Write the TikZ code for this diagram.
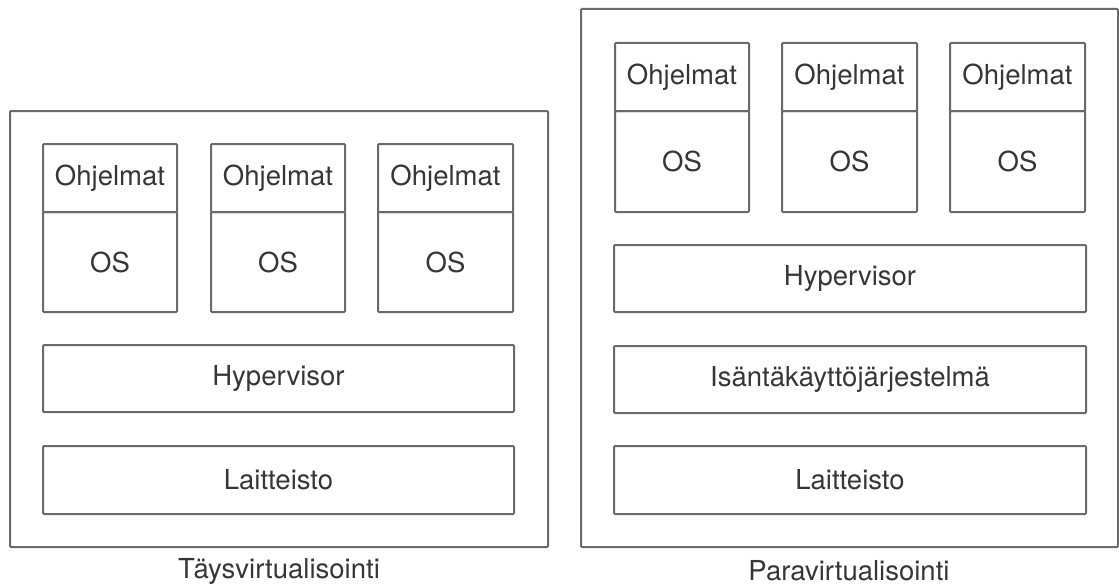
\documentclass[tikz,border=0pt]{standalone}
\usepackage{fontspec}
\setmainfont{TeX Gyre Heros}
\definecolor{edge}{HTML}{6A6A6A}
\definecolor{ink}{HTML}{363636}
\tikzset{
  box/.style={draw=edge, line width=2pt, rounded corners=1pt, inner sep=0pt,
              outer sep=0pt, font=\fontsize{27.5}{32}\selectfont, text=ink},
  frame/.style={draw=edge, line width=2pt, rounded corners=1pt, inner sep=0pt, outer sep=0pt},
  caption/.style={font=\fontsize{27.5}{32}\selectfont, text=ink, inner sep=0pt}
}
\begin{document}
\begin{tikzpicture}[x=1pt, y=-1pt]
\useasboundingbox (0,0) rectangle (1119,586);

% Täysvirtualisointi
\node[frame, minimum width=538, minimum height=436] (fullframe) at (279,329) {};
\node[box, minimum width=134, minimum height=68]  (fapp1) at (110,178) {Ohjelmat};
\node[box, minimum width=134, minimum height=100] (fos1)  at (110,262) {OS};
\node[box, minimum width=134, minimum height=68]  (fapp2) at (278,178) {Ohjelmat};
\node[box, minimum width=134, minimum height=100] (fos2)  at (278,262) {OS};
\node[box, minimum width=135, minimum height=68]  (fapp3) at (445.5,178) {Ohjelmat};
\node[box, minimum width=135, minimum height=100] (fos3)  at (445.5,262) {OS};
\node[box, minimum width=471, minimum height=67] (fhyp) at (278.5,378.5) {Hypervisor};
\node[box, minimum width=471, minimum height=68] (fhw)  at (278.5,480) {Laitteisto};
\node[caption] (fcap) at (279,571) {Täysvirtualisointi};

% Paravirtualisointi
\node[frame, minimum width=537, minimum height=538] (paraframe) at (849.5,278) {};
\node[box, minimum width=134, minimum height=68]  (papp1) at (682,77) {Ohjelmat};
\node[box, minimum width=134, minimum height=101] (pos1)  at (682,161.5) {OS};
\node[box, minimum width=135, minimum height=68]  (papp2) at (849.5,77) {Ohjelmat};
\node[box, minimum width=135, minimum height=101] (pos2)  at (849.5,161.5) {OS};
\node[box, minimum width=135, minimum height=68]  (papp3) at (1017.5,77) {Ohjelmat};
\node[box, minimum width=135, minimum height=101] (pos3)  at (1017.5,161.5) {OS};
\node[box, minimum width=472, minimum height=67] (phyp)  at (850,278.5) {Hypervisor};
\node[box, minimum width=472, minimum height=67] (phost) at (850,379.5) {Isäntäkäyttöjärjestelmä};
\node[box, minimum width=472, minimum height=68] (phw)   at (850,480) {Laitteisto};
\node[caption] (pcap) at (849,571) {Paravirtualisointi};
\end{tikzpicture}
\end{document}
